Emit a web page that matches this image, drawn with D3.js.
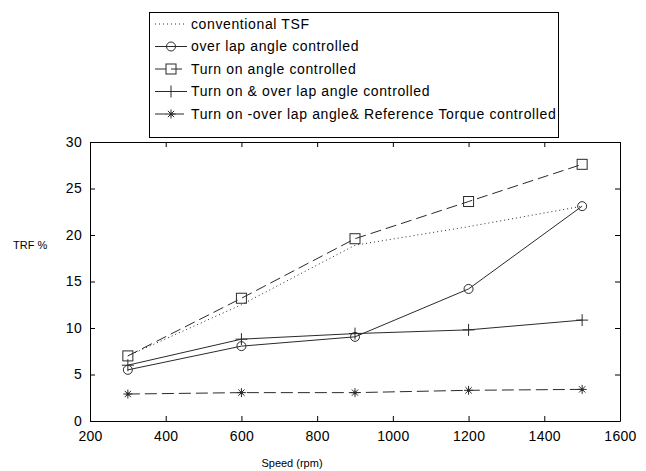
<!DOCTYPE html>
<html>
<head>
<meta charset="utf-8">
<script src="https://cdn.jsdelivr.net/npm/d3@7"></script>
<style>
  body { margin: 0; background: #fff; }
  text { font-family: "Liberation Sans", Arial, Helvetica, sans-serif; fill: #000; }
</style>
</head>
<body>
<script>
var width = 646;
var height = 471;

// data
var speeds = [300, 600, 900, 1200, 1500];
var conventionalTSF = [7.0, 12.5, 18.9, 20.9, 23.1];
var overlapControlled = [5.5, 8.05, 9.05, 14.2, 23.1];
var turnOnControlled = [7.0, 13.2, 19.6, 23.6, 27.6];
var turnOnOverlap = [6.0, 8.8, 9.4, 9.8, 10.85];
var refTorque = [2.9, 3.05, 3.05, 3.3, 3.4];

var xTicks = [200, 400, 600, 800, 1000, 1200, 1400, 1600];
var yTicks = [0, 5, 10, 15, 20, 25, 30];

var seriesNames = [
    "conventional TSF",
    "over lap angle controlled",
    "Turn on angle controlled",
    "Turn on & over lap angle controlled",
    "Turn on -over lap angle& Reference Torque controlled"
];

var series = [
    {name: seriesNames[0], values: conventionalTSF, dash: "1,3", marker: "none"},
    {name: seriesNames[1], values: overlapControlled, dash: null, marker: "circle"},
    {name: seriesNames[2], values: turnOnControlled, dash: "11,5", marker: "square"},
    {name: seriesNames[3], values: turnOnOverlap, dash: null, marker: "plus"},
    {name: seriesNames[4], values: refTorque, dash: "12,5", marker: "star"}
];

var margin = {left: 90, right: 26, top: 142, bottom: 50};
var plotW = width - margin.left - margin.right;
var plotH = height - margin.top - margin.bottom;
var lineColor = "#2a2a2a";

var svg = d3.select("body").append("svg")
    .attr("width", width)
    .attr("height", height);

var x = d3.scaleLinear().domain([200, 1600]).range([margin.left, margin.left + plotW]);
var y = d3.scaleLinear().domain([0, 30]).range([margin.top + plotH, margin.top]);

// axes with inward ticks on all four sides
svg.append("g")
    .attr("transform", "translate(0," + (margin.top + plotH) + ")")
    .call(d3.axisBottom(x).tickValues(xTicks).tickFormat(d3.format("d"))
        .tickSizeInner(-5).tickSizeOuter(0).tickPadding(10))
    .call(styleAxis);

svg.append("g")
    .attr("transform", "translate(0," + margin.top + ")")
    .call(d3.axisTop(x).tickValues(xTicks).tickSizeInner(-5).tickSizeOuter(0).tickFormat(""))
    .call(styleAxis);

svg.append("g")
    .attr("transform", "translate(" + margin.left + ",0)")
    .call(d3.axisLeft(y).tickValues(yTicks).tickSizeInner(-5).tickSizeOuter(0).tickPadding(8))
    .call(styleAxis);

svg.append("g")
    .attr("transform", "translate(" + (margin.left + plotW) + ",0)")
    .call(d3.axisRight(y).tickValues(yTicks).tickSizeInner(-5).tickSizeOuter(0).tickFormat(""))
    .call(styleAxis);

function styleAxis(g) {
    g.select(".domain").attr("stroke", "#000");
    g.selectAll(".tick line").attr("stroke", "#000");
    g.selectAll(".tick text")
        .attr("font-size", "14px")
        .attr("font-family", "\"Liberation Sans\", Arial, sans-serif")
        .attr("letter-spacing", "0.3px")
        .attr("fill", "#000");
}

var line = d3.line()
    .x(function(d, i) { return x(speeds[i]); })
    .y(function(d) { return y(d); });

var plot = svg.append("g");

series.forEach(function(s) {
    plot.append("path")
        .attr("d", line(s.values))
        .attr("fill", "none")
        .attr("stroke", lineColor)
        .attr("stroke-width", 1)
        .attr("stroke-dasharray", s.dash);

    s.values.forEach(function(v, i) {
        drawMarker(plot, s.marker, x(speeds[i]), y(v));
    });
});

function drawMarker(g, type, cx, cy) {
    if (type === "circle") {
        g.append("circle").attr("cx", cx).attr("cy", cy).attr("r", 4.5)
            .attr("fill", "none").attr("stroke", lineColor);
    } else if (type === "square") {
        g.append("rect").attr("x", cx - 5).attr("y", cy - 5).attr("width", 10).attr("height", 10)
            .attr("fill", "none").attr("stroke", lineColor);
    } else if (type === "plus") {
        g.append("path").attr("d", "M" + (cx - 6) + "," + cy + "h12M" + cx + "," + (cy - 6) + "v12")
            .attr("stroke", lineColor);
    } else if (type === "star") {
        var r = 4.5, a = r * 0.7;
        g.append("path")
            .attr("d", "M" + (cx - r) + "," + cy + "h" + (2 * r) +
                "M" + cx + "," + (cy - r) + "v" + (2 * r) +
                "M" + (cx - a) + "," + (cy - a) + "l" + (2 * a) + "," + (2 * a) +
                "M" + (cx - a) + "," + (cy + a) + "l" + (2 * a) + "," + (-2 * a))
            .attr("stroke", lineColor);
        g.append("circle").attr("cx", cx).attr("cy", cy).attr("r", 1.5).attr("fill", lineColor);
    }
}

// axis titles
svg.append("text")
    .attr("x", 292)
    .attr("y", 467)
    .attr("text-anchor", "middle")
    .attr("font-size", "11px")
    .text("Speed (rpm)");

svg.append("text")
    .attr("x", 13)
    .attr("y", 249)
    .attr("font-size", "11px")
    .text("TRF %");

// legend
var legend = svg.append("g").attr("transform", "translate(149,12)");
legend.append("rect")
    .attr("x", 0.5).attr("y", 0.5)
    .attr("width", 409).attr("height", 125)
    .attr("fill", "#fff").attr("stroke", "#000");

series.forEach(function(s, i) {
    var ly = 12 + i * 22.5;
    legend.append("path")
        .attr("d", "M6," + ly + "H38")
        .attr("stroke", lineColor)
        .attr("stroke-dasharray", s.dash);
    drawMarker(legend, s.marker, 22, ly);
    legend.append("text")
        .attr("x", 42)
        .attr("y", ly)
        .attr("dy", "0.35em")
        .attr("font-size", "14px")
        .attr("letter-spacing", "0.62px")
        .text(s.name);
});
</script>
</body>
</html>
